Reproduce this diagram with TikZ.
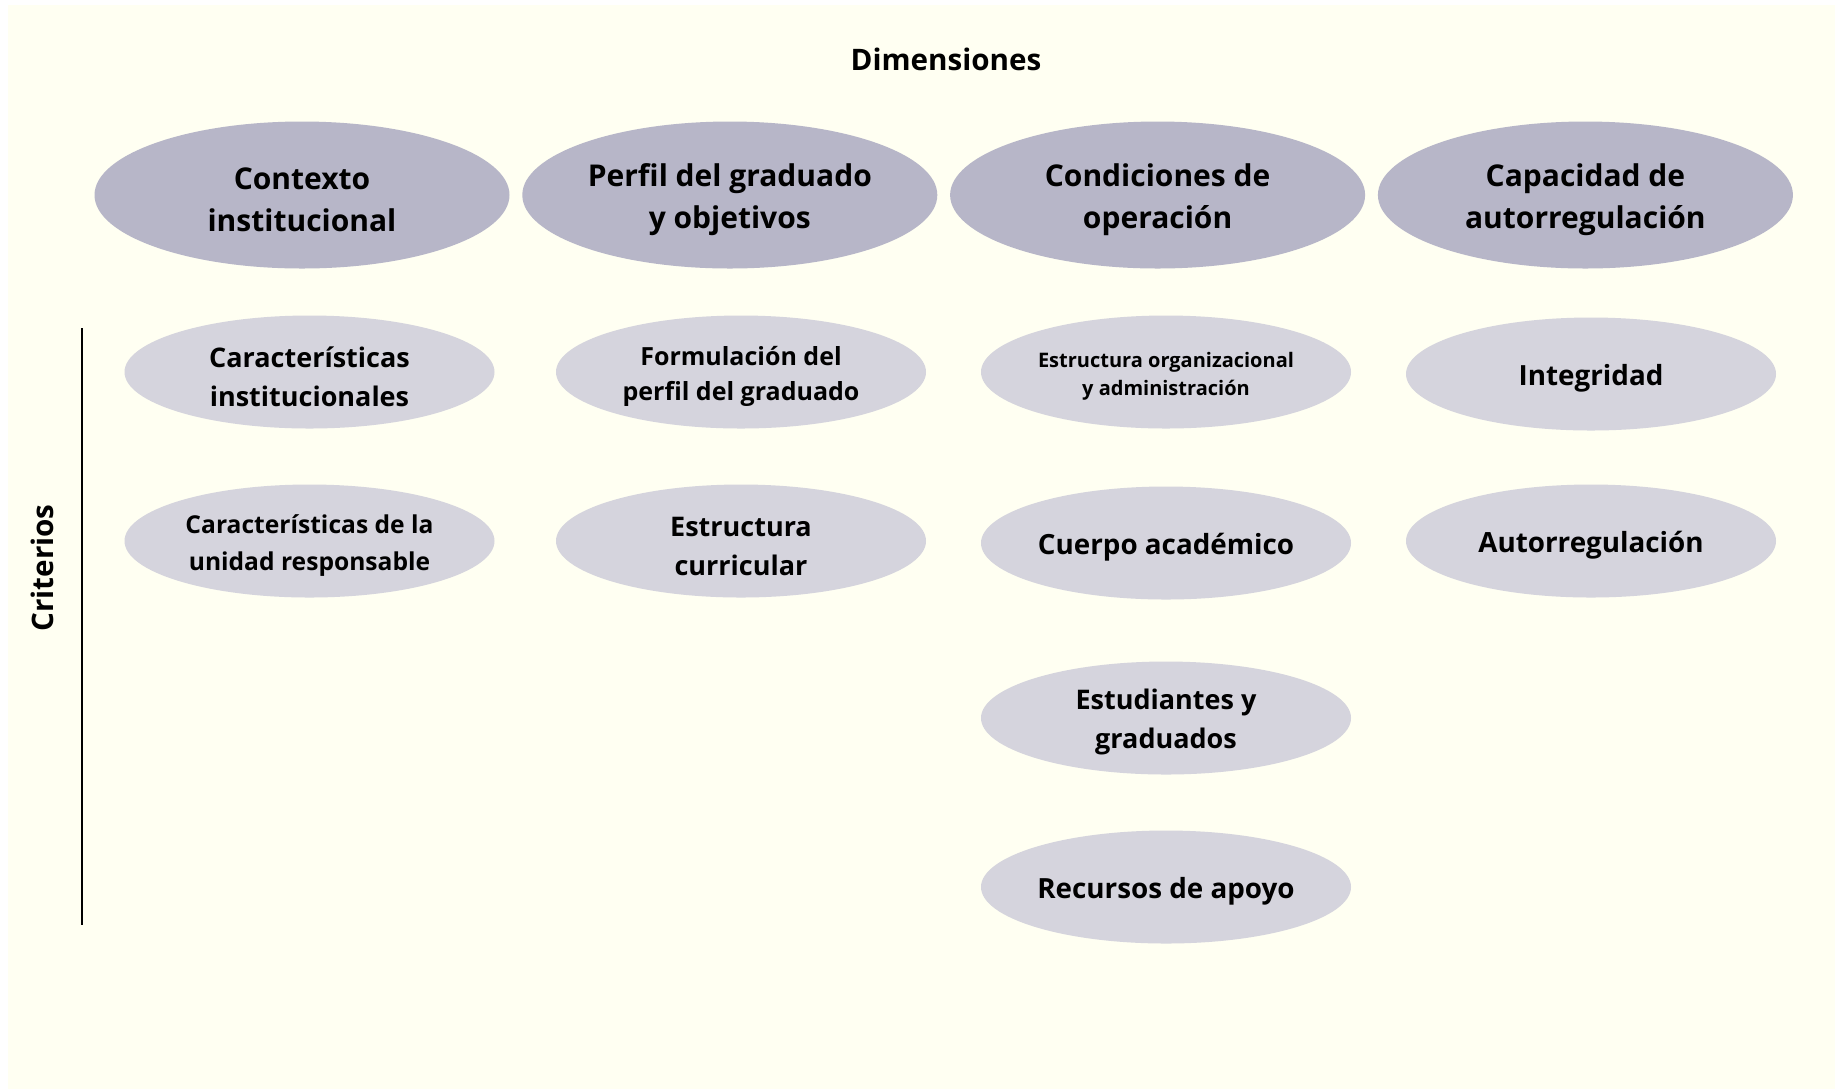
\documentclass[tikz,border=0pt]{standalone}
\usepackage{fontspec}
\setmainfont{Open Sans}
\usepackage{xcolor}
\usetikzlibrary{positioning,shapes.geometric}
\definecolor{dimfill}{HTML}{B7B6C8}
\definecolor{critfill}{HTML}{D5D4DD}
\definecolor{paper}{HTML}{FFFFF2}
% taller first line, so the text sits a little lower in its ellipse
\newcommand{\toplift}{\rule{0pt}{\dimexpr\fontcharht\font`\d+4.4pt\relax}}

\begin{document}
\begin{tikzpicture}[x=0.5pt,y=-0.5pt,
    dim/.style={ellipse,fill=dimfill,minimum width=207.5pt,minimum height=73.5pt,
                inner sep=0pt,align=center,
                font=\bfseries\fontsize{15}{21.2}\selectfont},
    crit/.style={ellipse,fill=critfill,minimum width=185pt,minimum height=56.5pt,
                 inner sep=0pt,align=center,
                 font=\bfseries\fontsize{13.5}{19.5}\selectfont},
    single/.style={crit,font=\bfseries\fontsize{13.9}{19.5}\selectfont},
    head/.style={font=\bfseries\fontsize{14.8}{17}\selectfont,inner sep=0pt}
  ]
    \useasboundingbox (0,0) rectangle (1845,1089);
    \fill[white] (0,0) rectangle (1845,1089);
    \fill[paper] (8,5) rectangle (1835,1089);

    \node[head] (titulo) at (946,59) {Dimensiones};
    \node[head,rotate=90] (criterios) at (42,568) {Criterios};
    \coordinate (lineatop) at (82,328);
    \coordinate (lineabot) at (82,925);
    \draw[black,line width=0.6pt] (lineatop) -- (lineabot);

    % dimensiones
    \node[dim] (contexto) at (302,195) {\toplift Contexto\\institucional};
    \node[dim,right=6pt of contexto] (perfil) {\toplift Perfil del graduado\\y objetivos};
    \node[dim,right=6pt of perfil] (condiciones) {\toplift Condiciones de\\operación};
    \node[dim,right=6pt of condiciones] (capacidad) {\toplift Capacidad de\\autorregulación};

    % criterios
    \node[crit] (carinst) at (309.5,372) {\toplift Características\\institucionales};
    \node[crit,font=\bfseries\fontsize{12.3}{18.3}\selectfont] (carunid) at (309.5,541)
      {\toplift Características de la\\unidad responsable};
    \node[crit,font=\bfseries\fontsize{12.5}{17.7}\selectfont] (formul) at (741,372)
      {\toplift Formulación del\\perfil del graduado};
    \node[crit] (curric) at (741,541) {\toplift Estructura\\curricular};
    \node[crit,font=\bfseries\fontsize{10}{14}\selectfont] (organiz) at (1166,372)
      {\toplift Estructura organizacional\\y administración};
    \node[single] (cuerpo) at (1166,543) {\toplift Cuerpo académico};
    \node[crit] (estud) at (1166,718) {\toplift Estudiantes y\\graduados};
    \node[single] (recursos) at (1166,887) {\toplift Recursos de apoyo};
    \node[single] (integ) at (1591,374) {\toplift Integridad};
    \node[single] (autorreg) at (1591,541) {\toplift Autorregulación};
  \end{tikzpicture}
\end{document}
